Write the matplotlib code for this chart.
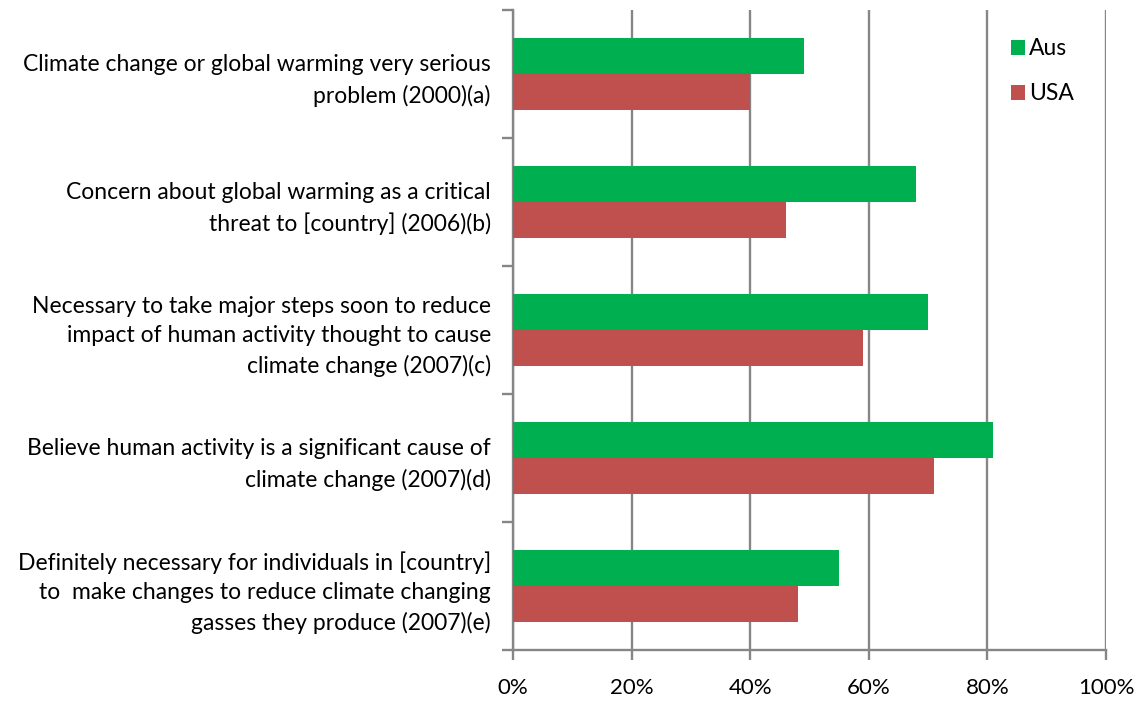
import numpy as np
import matplotlib
matplotlib.use('Agg')
import matplotlib.pyplot as plt
from matplotlib.ticker import FuncFormatter

plt.rcParams['font.family'] = ['Lato', 'DejaVu Sans']

questions = [
    "Climate change or global warming very serious\nproblem (2000)(a)",
    "Concern about global warming as a critical\nthreat to [country] (2006)(b)",
    "Necessary to take major steps soon to reduce\nimpact of human activity thought to cause\nclimate change (2007)(c)",
    "Believe human activity is a significant cause of\nclimate change (2007)(d)",
    "Definitely necessary for individuals in [country]\nto  make changes to reduce climate changing\ngasses they produce (2007)(e)",
]
aus = [49, 68, 70, 81, 55]
usa = [40, 46, 59, 71, 48]
x_ticks = [0, 20, 40, 60, 80, 100]

GREEN = '#00B050'
RED = '#C0504D'
GREY = '#868686'

fig = plt.figure(figsize=(11.39, 7.01), dpi=100)
ax = fig.add_axes([0.4504, 0.0727, 0.971 - 0.4504, 0.9857 - 0.0727])

y = np.arange(len(questions))
h = 0.28
ax.barh(y - h / 2, aus, height=h, color=GREEN, label='Aus', zorder=3)
ax.barh(y + h / 2, usa, height=h, color=RED, label='USA', zorder=3)

ax.set_xlim(0, 100)
ax.set_ylim(len(questions) - 0.5, -0.5)

# vertical gridlines behind the bars
ax.set_xticks(x_ticks)
ax.xaxis.set_major_formatter(FuncFormatter(lambda v, _: f"{v:.0f}%"))
ax.grid(axis='x', color=GREY, linewidth=1.7, zorder=0)
ax.set_axisbelow(True)

# category labels on the left, tick marks only between categories
ax.set_yticks(y)
ax.set_yticklabels(questions, fontsize=16.5, linespacing=1.5)
for lbl in ax.get_yticklabels():
    lbl.set_verticalalignment('center_baseline')
ax.set_yticks(np.arange(len(questions) + 1) - 0.5, minor=True)
ax.tick_params(axis='y', which='major', length=0, pad=16)
ax.tick_params(axis='y', which='minor', length=8, width=1.7, color=GREY)
ax.tick_params(axis='x', length=7, width=1.7, color=GREY, labelsize=16, pad=13)

for side in ['top', 'right']:
    ax.spines[side].set_visible(False)
for side in ['left', 'bottom']:
    ax.spines[side].set_color(GREY)
    ax.spines[side].set_linewidth(1.7)

ax.legend(loc='upper left', bbox_to_anchor=(0.805, 0.988), frameon=False,
          fontsize=16.5, handlelength=0.6, handleheight=0.6,
          handletextpad=0.2, labelspacing=1.05)

fig.savefig('out.png', dpi=100)
